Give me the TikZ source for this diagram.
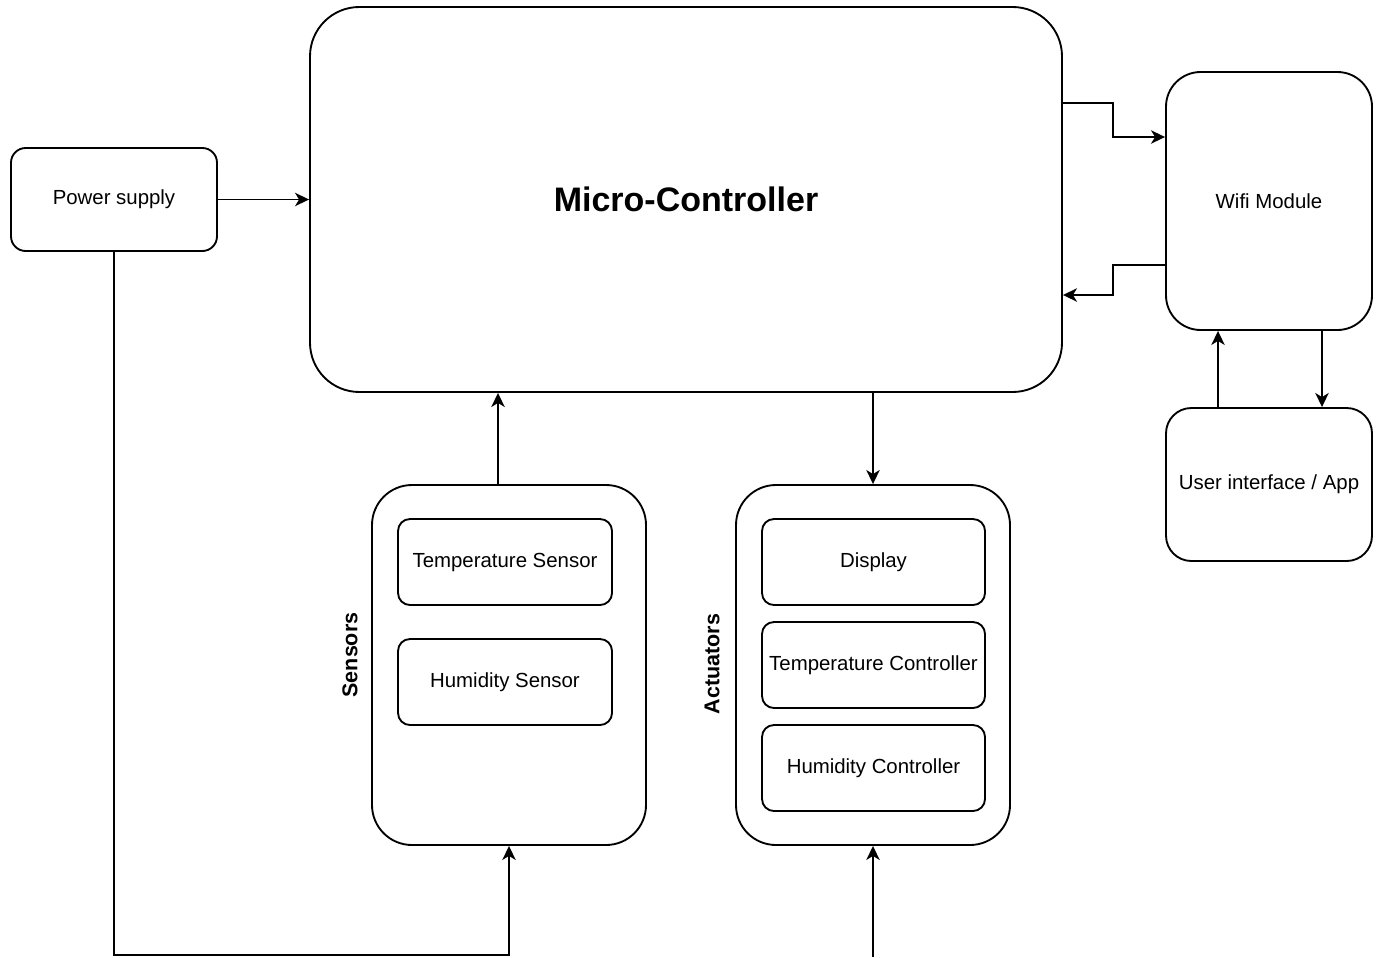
\documentclass[tikz,border=0pt]{standalone}
\usepackage{fontspec}
\setmainfont{Liberation Sans}
\usetikzlibrary{arrows.meta}
\begin{document}
\begin{tikzpicture}[x=0.75pt,y=-0.75pt,
  box/.style={draw, line width=1.4pt, inner sep=0pt, align=center,
    font=\fontsize{15.3}{18}\selectfont},
  size/.style 2 args={minimum width=#1*0.75pt, minimum height=#2*0.75pt},
  grouplabel/.style={rotate=90, font=\bfseries\fontsize{16.1}{19}\selectfont},
  link/.style={line width=1.4pt, -{Stealth[length=10.5pt,width=10pt,inset=3pt]}}]
  \useasboundingbox (0,0) rectangle (1378,957);

  % main blocks
  \node[box, size={206}{103}, rounded corners=11pt] (psu) at (114,199.5) {Power supply};
  \node[box, size={752}{385}, rounded corners=37pt,
        font=\bfseries\fontsize{25.5}{30}\selectfont] (mcu) at (686,199.5) {Micro-Controller};
  \node[box, size={206}{258}, rounded corners=26pt] (wifi) at (1269,201) {Wifi Module};
  \node[box, size={206}{153}, rounded corners=19pt] (app) at (1269,484.5) {User interface / App};

  % sensor group
  \node[box, size={274}{360}, rounded corners=30pt] (sens) at (509,665) {};
  \node[box, size={214}{86}, rounded corners=9pt] (tsens) at (505,562) {Temperature Sensor};
  \node[box, size={214}{86}, rounded corners=9pt] (hsens) at (505,682) {Humidity Sensor};
  \node[grouplabel] (senslbl) at (350,655) {Sensors};

  % actuator group
  \node[box, size={274}{360}, rounded corners=30pt] (act) at (873,665) {};
  \node[box, size={223}{86}, rounded corners=9pt] (disp) at (873.5,562) {Display};
  \node[box, size={223}{86}, rounded corners=9pt] (tctl) at (873.5,665) {Temperature Controller};
  \node[box, size={223}{86}, rounded corners=9pt] (hctl) at (873.5,768) {Humidity Controller};
  \node[grouplabel] (actlbl) at (712,664) {Actuators};

  % helper rows and columns for the routed connectors
  \coordinate (rail) at (0,955);
  \coordinate (feed) at (874,957);
  \coordinate (up)   at (498,0);
  \coordinate (r1)   at (0,103);
  \coordinate (r2)   at (0,137);
  \coordinate (r3)   at (0,265);
  \coordinate (r4)   at (0,295);
  \coordinate (c1)   at (1113,0);
  \coordinate (cA)   at (1218,0);
  \coordinate (cB)   at (1322,0);

  % power distribution
  \draw[link] (psu.east) -- (psu.east -| mcu.west);
  \draw[link] (psu.south) |- (rail -| sens.south) -- (sens.south);
  \draw[link] (feed -| act.south) -- (act.south);

  % controller links
  \draw[link] (up |- sens.north) -- (up |- mcu.south);
  \draw[link] (mcu.south -| act.north) -- (act.north);

  % wifi links
  \draw[link] (mcu.east |- r1) -| (c1 |- r2) -- (wifi.west |- r2);
  \draw[link] (wifi.west |- r3) -| (c1 |- r4) -- (mcu.east |- r4);
  \draw[link] (app.north -| cA) -- (wifi.south -| cA);
  \draw[link] (wifi.south -| cB) -- (app.north -| cB);
\end{tikzpicture}
\end{document}
